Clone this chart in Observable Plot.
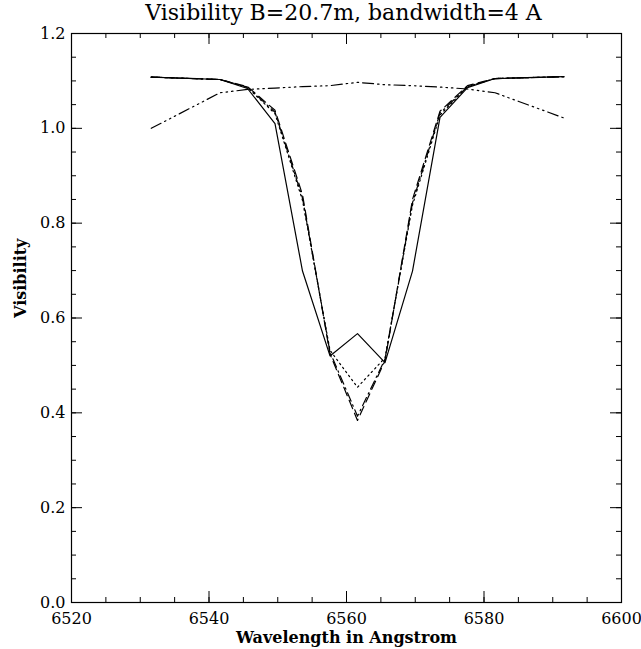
<!DOCTYPE html>
<html>
<head>
<meta charset="utf-8">
<script src="https://cdn.jsdelivr.net/npm/d3@7"></script>
<script src="https://cdn.jsdelivr.net/npm/@observablehq/plot@0.6"></script>
<style>
  html, body { margin: 0; padding: 0; background: white; }
  svg, svg text { font-family: "DejaVu Serif", "Liberation Serif", serif !important; }
</style>
</head>
<body>
<div id="chart"></div>
<script>
// Data
const wavelength = [6531.6, 6541.6, 6545.6, 6549.6, 6553.6, 6557.6, 6561.6, 6565.6, 6569.6, 6573.6, 6577.6, 6581.6, 6591.6];
const visSolid   = [1.108, 1.103, 1.084, 1.010, 0.699, 0.520, 0.567, 0.506, 0.699, 1.023, 1.086, 1.105, 1.109];
const visDashed  = [1.108, 1.103, 1.088, 1.038, 0.860, 0.524, 0.384, 0.510, 0.850, 1.036, 1.090, 1.105, 1.109];
const visDashDot = [1.108, 1.103, 1.087, 1.034, 0.853, 0.528, 0.393, 0.513, 0.843, 1.032, 1.088, 1.105, 1.109];
const visDotted  = [1.108, 1.103, 1.086, 1.031, 0.848, 0.532, 0.454, 0.516, 0.838, 1.028, 1.088, 1.105, 1.109];
const visDash3   = [1.000, 1.075, 1.082, 1.085, 1.088, 1.090, 1.097, 1.092, 1.090, 1.087, 1.083, 1.075, 1.022];

const xMajor = [6520, 6540, 6560, 6580, 6600];
const xMinor = d3.range(6520, 6600.01, 5);
const yMajor = [0.0, 0.2, 0.4, 0.6, 0.8, 1.0, 1.2];
const yMinor = d3.range(0, 1.2001, 0.05);

const titleText = "Visibility B=20.7m, bandwidth=4 A";
const xLabel = "Wavelength in Angstrom";
const yLabel = "Visibility";

const series = [
  {values: visSolid, dash: null},
  {values: visDashed, dash: "9,5"},
  {values: visDashDot, dash: "9,4,1.5,4"},
  {values: visDotted, dash: "1.5,3.5"},
  {values: visDash3, dash: "11,4,1.5,4,1.5,4,1.5,4"}
];

const W = 641, H = 649;
const mL = 71, mR = 20, mT = 33, mB = 47;
const fw = W - mL - mR, fh = H - mT - mB;
const majLen = 11, minLen = 5;

const lineMarks = series.map(s =>
  Plot.line(wavelength.map((w, i) => ({w, v: s.values[i]})), {
    x: "w", y: "v", stroke: "black", strokeWidth: 1.2,
    strokeDasharray: s.dash
  })
);

const tickMarks = [
  Plot.tickY(yMajor, {y: d => d, insetRight: fw - majLen, stroke: "black"}),
  Plot.tickY(yMajor, {y: d => d, insetLeft: fw - majLen, stroke: "black"}),
  Plot.tickY(yMinor, {y: d => d, insetRight: fw - minLen, stroke: "black"}),
  Plot.tickY(yMinor, {y: d => d, insetLeft: fw - minLen, stroke: "black"}),
  Plot.tickX(xMajor, {x: d => d, insetTop: fh - majLen, stroke: "black"}),
  Plot.tickX(xMajor, {x: d => d, insetBottom: fh - majLen, stroke: "black"}),
  Plot.tickX(xMinor, {x: d => d, insetTop: fh - minLen, stroke: "black"}),
  Plot.tickX(xMinor, {x: d => d, insetBottom: fh - minLen, stroke: "black"})
];

const chart = Plot.plot({
  width: W, height: H,
  marginLeft: mL, marginRight: mR, marginTop: mT, marginBottom: mB,
  style: {fontFamily: "DejaVu Serif", background: "white", color: "black"},
  x: {domain: [6520, 6600]},
  y: {domain: [0, 1.2]},
  marks: [
    Plot.frame({stroke: "black", strokeWidth: 1.2}),
    ...tickMarks,
    Plot.axisX({ticks: xMajor, tickSize: 0, tickPadding: 10, tickFormat: d => String(d), label: null, fontSize: 16}),
    Plot.axisY({ticks: yMajor, tickSize: 0, tickPadding: 6, tickFormat: d3.format(".1f"), label: null, fontSize: 16}),
    ...lineMarks,
    Plot.text([titleText], {frameAnchor: "top", dx: -3, dy: -29, fontSize: 22, text: d => d}),
    Plot.text([xLabel], {frameAnchor: "bottom", dy: 40, fontSize: 16, fontWeight: "bold", text: d => d}),
    Plot.text([yLabel], {frameAnchor: "left", dx: -51, rotate: -90, fontSize: 16, fontWeight: "bold", text: d => d})
  ]
});
document.getElementById("chart").appendChild(chart);
</script>
</body>
</html>
